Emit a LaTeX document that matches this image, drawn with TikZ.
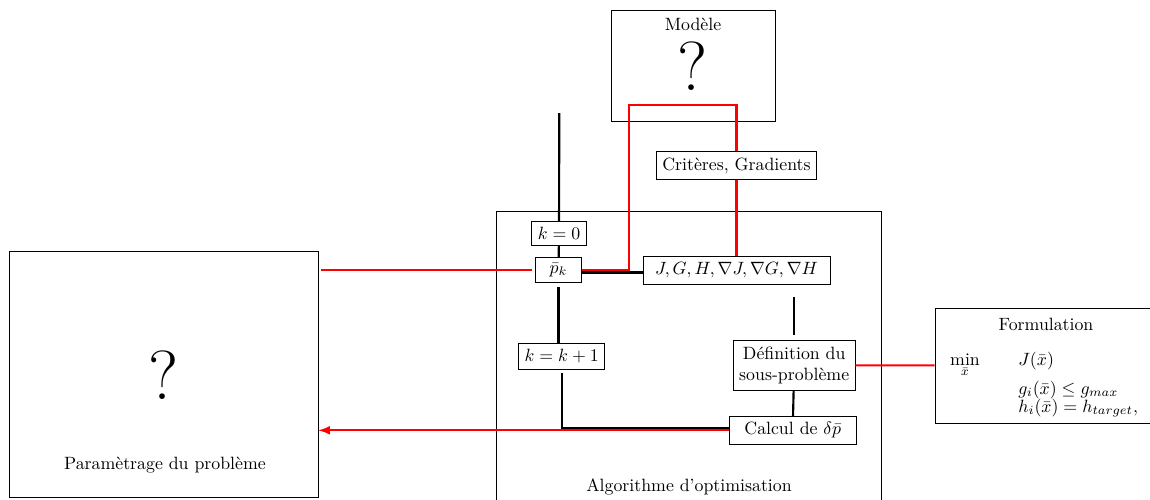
\documentclass[tikz,border=0pt]{standalone}
\usepackage{fontspec}
\usepackage{amsmath}
\usepackage{tikz}

\begin{document}
\begin{tikzpicture}[x=0.562pt,y=-0.562pt]
    \tikzstyle{bloc}=[draw,inner sep=0pt]
    \tikzstyle{etape}=[draw,fill=white]
    \tikzstyle{texte}=[inner sep=0pt]
    \tikzstyle{grand}=[inner sep=0pt,font=\fontsize{39}{44}\selectfont]
    \tikzstyle{lien}=[line width=1.2pt]
    \tikzstyle{flux}=[red,line width=1.2pt]
    \useasboundingbox (0,0) rectangle (1150,499);

    % grands blocs
    \node[bloc,minimum width=173.7pt,minimum height=138.3pt] (param) at (163.5,374) {};
    \node[grand] (paramq) at (164,375) {?};
    \node[texte] (paramtxt) at (165,465) {Paramètrage du problème};

    \node[bloc,minimum width=92.2pt,minimum height=62.4pt] (modele) at (693,65.5) {};
    \node[texte] (modeletxt) at (693,24) {Modèle};
    \node[grand] (modeleq) at (693,66) {?};

    \node[bloc,minimum width=216.5pt,minimum height=184.9pt] (algo) at (689.2,376) {};
    \node[texte] (algotxt) at (689,487) {Algorithme d'optimisation};

    \node[bloc,minimum width=125.3pt,minimum height=64.6pt] (form) at (1046.5,365.5) {};
    \node[texte] (formtxt) at (1046,324) {Formulation};
    \node[texte,anchor=base] (fmin) at (965,365) {$\min\limits_{\bar{x}}$};
    \node[texte,anchor=base west] (fJ) at (1018,365) {$J(\bar{x})$};
    \node[texte,anchor=base west,align=left,font=\fontsize{10}{10}\selectfont] (fgh) at (1018,412)
        {$g_i(\bar{x}) \leq g_{max}$\\$h_i(\bar{x}) = h_{target},$};

    % etapes de l'algorithme
    \coordinate (depart) at (559.3,113);
    \node[etape] (k0) at (559,233.5) {$k=0$};
    \node[etape,minimum width=25.5pt] (pk) at (558.5,270) {$\bar{p}_k$};
    \node[etape,minimum width=105pt] (J) at (736.5,270.3) {$J,G,H,\nabla J,\nabla G,\nabla H$};
    \node[etape] (kplus) at (561.7,356.2) {$k=k+1$};
    \node[etape,align=center] (def) at (794.2,365.3) {Définition du\\sous-problème};
    \node[etape,minimum width=71pt] (calcul) at (792.7,430.3) {Calcul de $\delta\bar{p}$};
    \coordinate (haut) at (628.7,105.3);

    \draw[lien] (depart) -- (k0);
    \draw[lien] (k0) -- (pk);
    \draw[lien,shorten <=2.2pt] (pk) -- (pk |- kplus.north);
    \draw[lien] ([yshift=-1.4pt]pk.east) -- ([yshift=-1.4pt]pk.east -| J.west);
    \draw[lien,shorten <=7pt,shorten >=3.2pt] (def.north |- J.south) -- (def.north);
    \draw[lien] (def) -- (calcul);
    \draw[lien,shorten <=2pt] (kplus) |- ([yshift=1.2pt]calcul.west);

    \draw[flux,shorten <=1.7pt,shorten >=1.7pt] (pk.west) -- (pk.west -| param.east);
    \draw[flux] (pk.east) -| (haut) -| (J.north);
    \draw[flux] (def) -- (form);
    \draw[flux,-latex] (calcul) -- (calcul -| param.east);

    \node[etape] (crit) at (736.5,165.5) {Critères, Gradients};

\end{tikzpicture}
\end{document}
